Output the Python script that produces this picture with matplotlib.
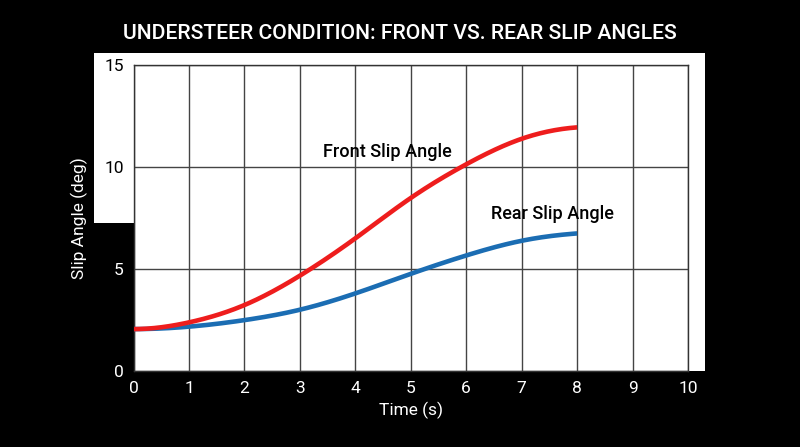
import matplotlib
matplotlib.use("Agg")
import matplotlib.pyplot as plt
from matplotlib.patches import Rectangle
import numpy as np

time_s = [0, 1, 2, 3, 4, 5, 6, 7, 8]
front_slip = [2.07, 2.40, 3.25, 4.69, 6.52, 8.50, 10.15, 11.40, 11.96]
rear_slip = [2.07, 2.19, 2.51, 3.02, 3.82, 4.78, 5.68, 6.40, 6.76]
x_ticks = [0, 1, 2, 3, 4, 5, 6, 7, 8, 9, 10]
y_ticks = [0, 5, 10, 15]

plt.rcParams["font.family"] = ["Roboto", "DejaVu Sans"]

fig = plt.figure(figsize=(8, 4.47), dpi=100, facecolor="black")

# белая подложка (как на оригинале — с уступом слева)
fig.patches.append(Rectangle((0.1175, 0.501), 0.764, 0.380, transform=fig.transFigure,
                             facecolor="white", edgecolor="none", zorder=-2))
fig.patches.append(Rectangle((0.167, 0.1693), 0.714, 0.712, transform=fig.transFigure,
                             facecolor="white", edgecolor="none", zorder=-2))

ax = fig.add_axes([0.167, 0.1693, 0.693, 0.6845])
ax.set_facecolor("white")


# сплайн с закреплёнными концами (наклон задаётся на краях)
def smooth(x, y, n=300, s0=0.0, s1=0.0):
    x = np.asarray(x, float)
    y = np.asarray(y, float)
    N = len(x)
    h = np.diff(x)
    A = np.zeros((N, N))
    b = np.zeros(N)
    A[0, 0], A[0, 1] = 2 * h[0], h[0]
    b[0] = 6 * ((y[1] - y[0]) / h[0] - s0)
    A[-1, -2], A[-1, -1] = h[-1], 2 * h[-1]
    b[-1] = 6 * (s1 - (y[-1] - y[-2]) / h[-1])
    for i in range(1, N - 1):
        A[i, i - 1], A[i, i], A[i, i + 1] = h[i - 1], 2 * (h[i - 1] + h[i]), h[i]
        b[i] = 6 * ((y[i + 1] - y[i]) / h[i] - (y[i] - y[i - 1]) / h[i - 1])
    M = np.linalg.solve(A, b)
    xs = np.linspace(x[0], x[-1], n)
    k = np.clip(np.searchsorted(x, xs, side="right") - 1, 0, N - 2)
    dx1 = x[k + 1] - xs
    dx0 = xs - x[k]
    hk = h[k]
    ys = (M[k] * dx1**3 / (6 * hk) + M[k + 1] * dx0**3 / (6 * hk)
          + (y[k] / hk - M[k] * hk / 6) * dx1 + (y[k + 1] / hk - M[k + 1] * hk / 6) * dx0)
    return xs, ys


ax.plot(*smooth(time_s, rear_slip, s1=0.2), color="#1b6db3", lw=3.3,
        solid_capstyle="butt", zorder=3)
ax.plot(*smooth(time_s, front_slip, s1=0.2), color="#ee1d1d", lw=3.3,
        solid_capstyle="butt", zorder=4)

ax.text(4.57, 10.75, "Front Slip Angle", fontsize=13, ha="center", va="center",
        color="black", fontweight="medium")
ax.text(7.55, 7.7, "Rear Slip Angle", fontsize=13, ha="center", va="center",
        color="black", fontweight="medium")

ax.set_xlim(0, 10)
ax.set_ylim(0, 15)
ax.set_xticks(x_ticks)
ax.set_yticks(y_ticks)
ax.grid(True, color="#444444", lw=1)
ax.set_axisbelow(True)
ax.tick_params(length=0, labelsize=12.5, pad=7)
for sp in ax.spines.values():
    sp.set_color("#333333")
    sp.set_linewidth(1)

for lbl in ax.get_xticklabels():
    lbl.set_color("white")
for lbl, v in zip(ax.get_yticklabels(), y_ticks):
    lbl.set_color("black" if v >= 10 else "white")

ax.set_xlabel("Time (s)", color="white", fontsize=12.5, labelpad=4)
ax.set_ylabel("Slip Angle (deg)", color="white", fontsize=12.5, labelpad=12)

fig.text(0.4995, 0.926, "UNDERSTEER CONDITION: FRONT VS. REAR SLIP ANGLES",
         color="white", fontsize=15.2, fontweight="medium", ha="center", va="center")

fig.savefig("out.png", dpi=100, facecolor="black")
